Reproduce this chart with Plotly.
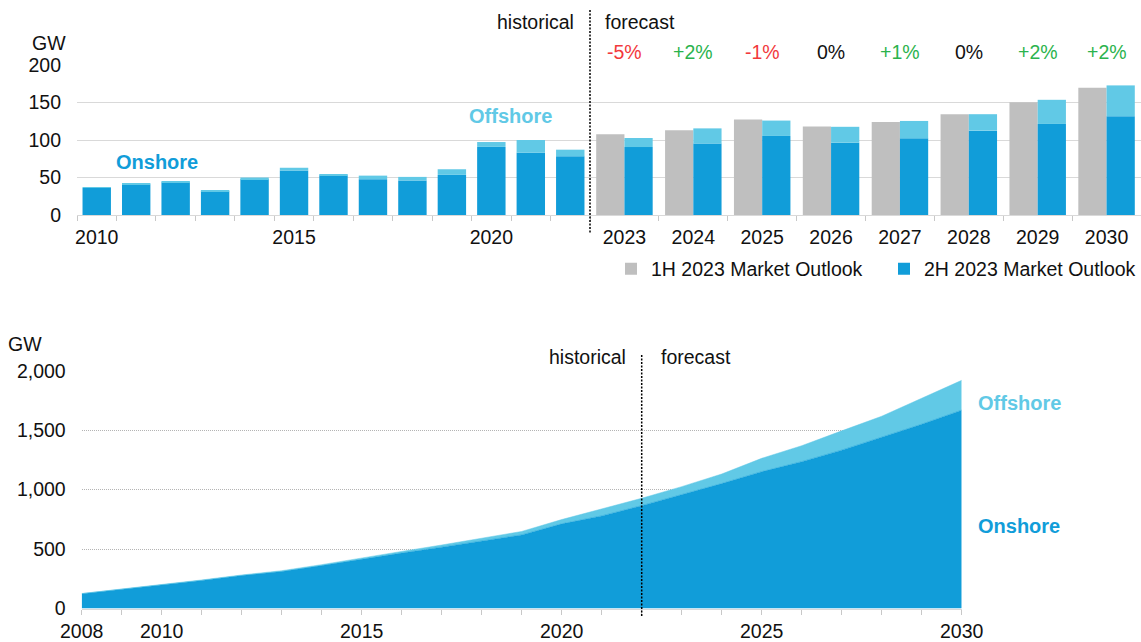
import plotly.graph_objects as go

# ---------------- data ----------------
# Annual installations, historical (GW)
hist_years = ["2010", "2011", "2012", "2013", "2014", "2015", "2016",
              "2017", "2018", "2019", "2020", "2021", "2022"]
hist_onshore = [36.0, 40.6, 43.3, 31.5, 47.8, 59.4, 52.8, 47.8, 46.0, 53.5, 90.8, 83.0, 78.3]
hist_offshore = [1.0, 1.2, 1.7, 1.8, 2.2, 3.6, 1.2, 4.7, 4.8, 7.5, 6.5, 17.0, 8.8]
hist_ticktext = ["2010", "", "", "", "", "2015", "", "", "", "", "2020", "", ""]

# Annual installations, forecast (GW)
fc_years = ["2023", "2024", "2025", "2026", "2027", "2028", "2029", "2030"]
fc_1h_total = [107.8, 113.0, 127.2, 118.0, 124.1, 134.4, 150.4, 169.6]
fc_2h_onshore = [90.6, 95.2, 105.4, 96.4, 102.2, 112.5, 121.4, 131.7]
fc_2h_offshore = [12.1, 20.3, 20.5, 21.2, 23.2, 21.9, 32.2, 41.1]

# Cumulative capacity (GW)
cum_years = list(range(2008, 2031))
cum_onshore = [124.5, 160, 197, 236, 277, 311, 361, 415, 466, 516, 566, 619,
               712, 779, 865, 957, 1051, 1151, 1235, 1332, 1439, 1550, 1668]
cum_offshore = [1.5, 2, 3, 4, 5, 7, 8, 12, 14, 18, 23, 29,
                36, 56, 62, 68, 80, 112, 134, 162, 178, 218, 251]
cum_label_years = [2008, 2010, 2015, 2020, 2025, 2030]
forecast_start = 2022

# ---------------- style ----------------
W, H = 1141, 642
FONT = "Liberation Sans, Arial, sans-serif"
ONSHORE = "#119DD9"
OFFSHORE = "#61C9E6"
GREY = "#BFBFBF"
TXT = "#111111"
RED = "#F2393C"
GREEN = "#2BB34D"


def px_x(x):
    return x / W


def px_y(y):
    return 1 - y / H


fig = go.Figure()

# historical bars (stacked via base)
fig.add_trace(go.Bar(x=hist_years, y=hist_onshore, xaxis="x", yaxis="y",
                     marker=dict(color=ONSHORE, line=dict(width=0)),
                     width=0.72, offset=-0.36, showlegend=False))
fig.add_trace(go.Bar(x=hist_years, y=hist_offshore, base=hist_onshore, xaxis="x", yaxis="y",
                     marker=dict(color=OFFSHORE, line=dict(width=0)),
                     width=0.72, offset=-0.36, showlegend=False))

# forecast bars: previous outlook next to the stacked current outlook
fig.add_trace(go.Bar(x=fc_years, y=fc_1h_total, xaxis="x2", yaxis="y2",
                     name="1H 2023 Market Outlook", legend="legend",
                     marker=dict(color=GREY, line=dict(width=0)),
                     width=0.41, offset=-0.41, showlegend=True))
fig.add_trace(go.Bar(x=fc_years, y=fc_2h_onshore, xaxis="x2", yaxis="y2",
                     name="2H 2023 Market Outlook", legend="legend2",
                     marker=dict(color=ONSHORE, line=dict(width=0)),
                     width=0.41, offset=0.0, showlegend=True))
fig.add_trace(go.Bar(x=fc_years, y=fc_2h_offshore, base=fc_2h_onshore, xaxis="x2", yaxis="y2",
                     marker=dict(color=OFFSHORE, line=dict(width=0)),
                     width=0.41, offset=0.0, showlegend=False))

# cumulative stacked areas
fig.add_trace(go.Scatter(x=cum_years, y=cum_onshore, xaxis="x3", yaxis="y3",
                         mode="lines", stackgroup="cum", line=dict(width=0.5, color=ONSHORE),
                         fillcolor=ONSHORE, showlegend=False, hoverinfo="x+y"))
fig.add_trace(go.Scatter(x=cum_years, y=cum_offshore, xaxis="x3", yaxis="y3",
                         mode="lines", stackgroup="cum", line=dict(width=0.5, color=OFFSHORE),
                         fillcolor=OFFSHORE, showlegend=False, hoverinfo="x+y"))

# ---------------- annotations ----------------
annotations = []


def label(text, x, y, xanchor="center", size=19.5, color=TXT, bold=False, xref="paper"):
    annotations.append(dict(
        text=f"<b>{text}</b>" if bold else text,
        x=x, y=y, xref=xref, yref="paper", xanchor=xanchor, yanchor="middle",
        showarrow=False, font=dict(family=FONT, size=size, color=color)))


# change of the new outlook vs the previous one (x given as category index)
for i, (prev, on, off) in enumerate(zip(fc_1h_total, fc_2h_onshore, fc_2h_offshore)):
    pct = int(round(((on + off) / prev - 1) * 100))
    if pct > 0:
        txt, col = f"+{pct}%", GREEN
    elif pct < 0:
        txt, col = f"{pct}%", RED
    else:
        txt, col = "0%", TXT
    label(txt, i, px_y(52), color=col, xref="x2")

label("GW", px_x(49), px_y(43))
label("historical", px_x(576), px_y(22), xanchor="right")
label("forecast", px_x(603), px_y(22), xanchor="left")
label("Onshore", px_x(157), px_y(162), size=20, color=ONSHORE, bold=True)
label("Offshore", px_x(510), px_y(116), size=20, color=OFFSHORE, bold=True)

label("GW", px_x(25), px_y(344))
label("historical", px_x(628), px_y(357), xanchor="right")
label("forecast", px_x(659), px_y(357), xanchor="left")
label("Offshore", px_x(1019), px_y(403), size=20, color=OFFSHORE, bold=True)
label("Onshore", px_x(1019), px_y(526), size=20, color=ONSHORE, bold=True)

divider = dict(color="#000000", width=1.5, dash="2px,1.5px")
shapes = [
    dict(type="line", xref="paper", yref="paper",
         x0=px_x(590), x1=px_x(590), y0=px_y(10), y1=px_y(233), line=divider),
    dict(type="line", xref="x3", yref="paper",
         x0=forecast_start, x1=forecast_start, y0=px_y(355), y1=px_y(616), line=divider),
]

tickfont = dict(family=FONT, size=19.5, color=TXT)

cat_axis = dict(type="category", categoryorder="array",
                tickson="boundaries", ticks="outside", ticklen=5, tickcolor="#C8C8C8",
                showline=True, linecolor="#D9D9D9", linewidth=1, tickangle=0,
                showgrid=False, zeroline=False, tickfont=tickfont,
                ticklabelstandoff=5, fixedrange=True, automargin=False)
top_y = dict(domain=[px_y(215), px_y(65)], range=[0, 200], dtick=50,
             showgrid=True, gridcolor="#D9D9D9", gridwidth=1, zeroline=False,
             ticks="", tickfont=tickfont, ticklabelstandoff=15,
             fixedrange=True, automargin=False)

legend_style = dict(orientation="h", xanchor="right", yanchor="middle", y=px_y(269),
                    font=dict(family=FONT, size=19.5, color=TXT),
                    bgcolor="rgba(0,0,0,0)", borderwidth=0,
                    itemclick=False, itemdoubleclick=False)

fig.update_layout(
    template="none",
    width=W, height=H, autosize=False,
    margin=dict(l=0, r=0, t=0, b=0, pad=0),
    paper_bgcolor="white", plot_bgcolor="white",
    barmode="overlay",
    font=dict(family=FONT, size=19.5, color=TXT),
    annotations=annotations, shapes=shapes,
    legend=dict(legend_style, x=px_x(868)),
    legend2=dict(legend_style, x=1.0),
    xaxis=dict(cat_axis, domain=[px_x(77), px_x(590)], anchor="y",
               categoryarray=hist_years, tickvals=hist_years, ticktext=hist_ticktext),
    xaxis2=dict(cat_axis, domain=[px_x(590), 1.0], anchor="y2",
                categoryarray=fc_years),
    yaxis=dict(top_y, anchor="x"),
    yaxis2=dict(top_y, anchor="x2", matches="y", showticklabels=False),
    xaxis3=dict(domain=[px_x(81.7), px_x(961.7)], anchor="y3", range=[2008, 2030],
                tickvals=cum_years,
                ticktext=[str(y) if y in cum_label_years else "" for y in cum_years],
                ticks="outside", ticklen=5, tickcolor="#C8C8C8", tickangle=0,
                showline=True, linecolor="#D9D9D9", linewidth=1,
                showgrid=False, zeroline=False, tickfont=tickfont,
                ticklabelstandoff=0, fixedrange=True, automargin=False),
    yaxis3=dict(domain=[px_y(608.5), px_y(370.7)], anchor="x3", range=[0, 2000],
                tickvals=[0, 500, 1000, 1500, 2000], tickformat=",",
                showgrid=True, gridcolor="#B4B4B4", gridwidth=1, griddash="1px,1px",
                zeroline=False, ticks="", tickfont=tickfont, ticklabelstandoff=15,
                fixedrange=True, automargin=False),
)

fig.write_html("out.html", config={"displayModeBar": False})
